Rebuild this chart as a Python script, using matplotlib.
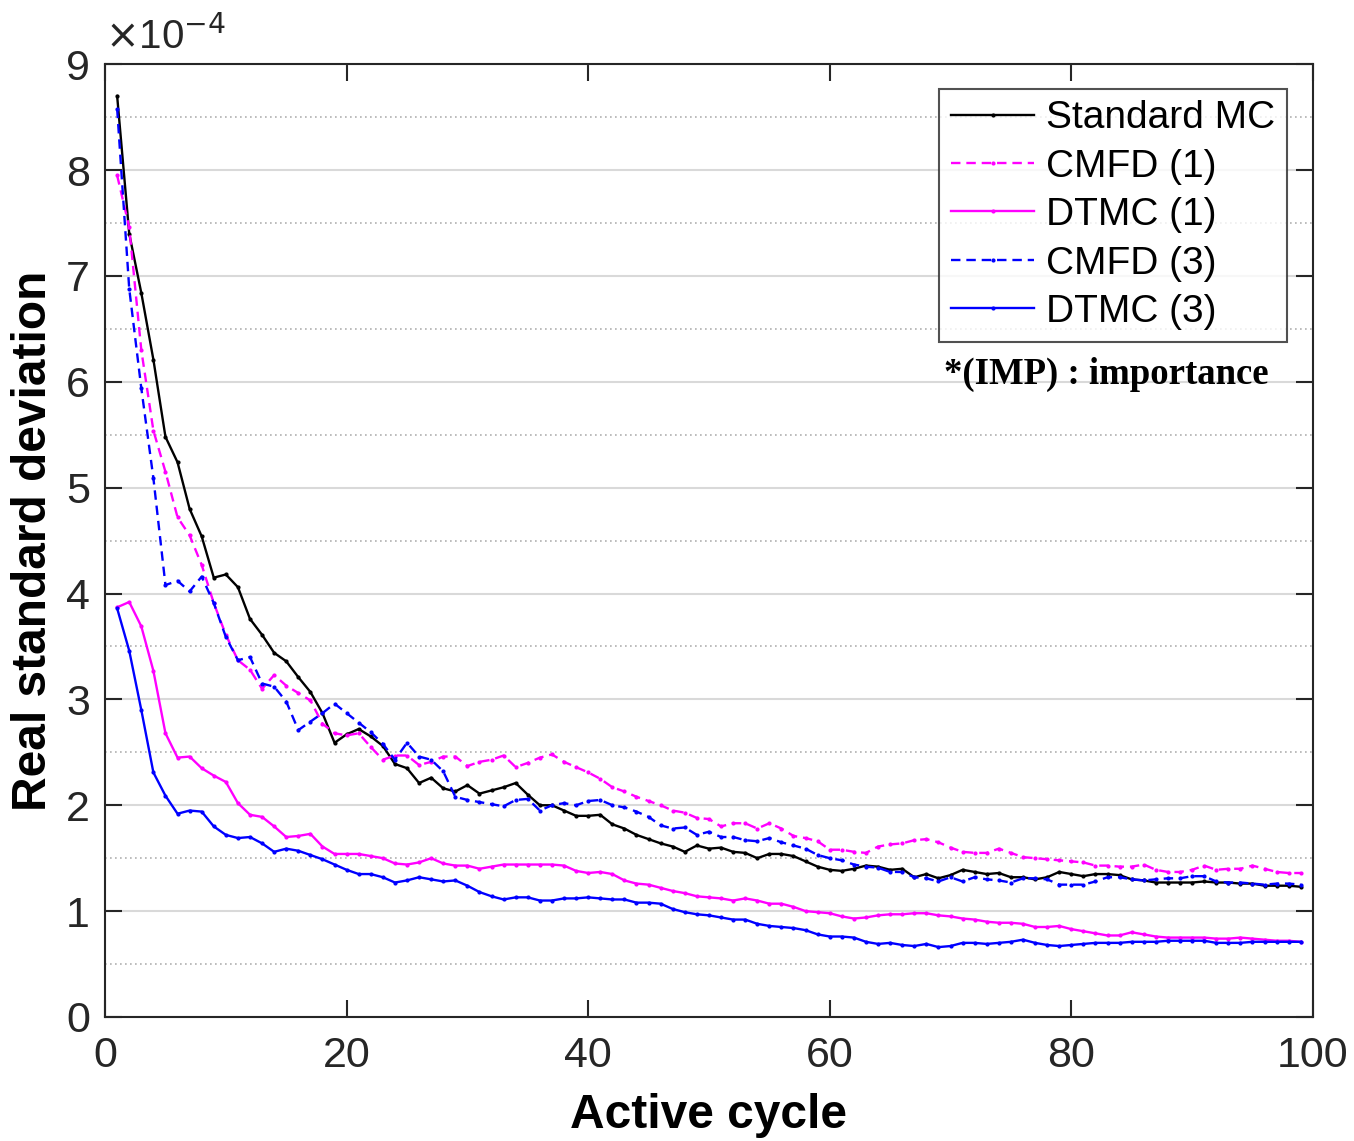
import numpy as np
import matplotlib
matplotlib.use("Agg")
import matplotlib.pyplot as plt
from matplotlib.ticker import MultipleLocator

plt.rcParams['font.family'] = ['Liberation Sans', 'DejaVu Sans']

# active cycles 1..99, values in units of 1e-4
cycles = list(range(1, 100))

standard_mc = [
    8.70, 7.40, 6.84, 6.21, 5.48, 5.24, 4.80, 4.54, 4.15, 4.18,
    4.06, 3.76, 3.61, 3.44, 3.36, 3.21, 3.07, 2.87, 2.59, 2.67,
    2.72, 2.65, 2.56, 2.39, 2.35, 2.21, 2.26, 2.16, 2.13, 2.19,
    2.11, 2.14, 2.17, 2.21, 2.10, 2.00, 2.00, 1.95, 1.90, 1.90,
    1.91, 1.82, 1.78, 1.72, 1.68, 1.64, 1.61, 1.56, 1.62, 1.59,
    1.60, 1.56, 1.55, 1.50, 1.54, 1.54, 1.52, 1.47, 1.42, 1.39,
    1.38, 1.40, 1.43, 1.42, 1.39, 1.40, 1.32, 1.35, 1.31, 1.34,
    1.39, 1.37, 1.35, 1.36, 1.32, 1.32, 1.30, 1.32, 1.37, 1.35,
    1.33, 1.35, 1.35, 1.34, 1.30, 1.29, 1.27, 1.27, 1.27, 1.27,
    1.28, 1.27, 1.27, 1.26, 1.26, 1.24, 1.24, 1.24, 1.23,
]

cmfd_1 = [
    7.95, 7.46, 6.30, 5.54, 5.15, 4.72, 4.55, 4.27, 3.91, 3.61,
    3.37, 3.28, 3.10, 3.23, 3.13, 3.06, 2.99, 2.77, 2.68, 2.66,
    2.68, 2.55, 2.43, 2.47, 2.47, 2.38, 2.41, 2.46, 2.46, 2.37,
    2.41, 2.43, 2.47, 2.36, 2.40, 2.45, 2.48, 2.41, 2.36, 2.31,
    2.25, 2.17, 2.13, 2.08, 2.04, 2.00, 1.95, 1.93, 1.88, 1.87,
    1.80, 1.83, 1.83, 1.78, 1.83, 1.78, 1.71, 1.69, 1.66, 1.58,
    1.58, 1.56, 1.55, 1.61, 1.63, 1.64, 1.67, 1.68, 1.65, 1.60,
    1.56, 1.55, 1.55, 1.59, 1.55, 1.51, 1.50, 1.49, 1.48, 1.47,
    1.46, 1.43, 1.43, 1.42, 1.42, 1.44, 1.39, 1.37, 1.37, 1.39,
    1.43, 1.39, 1.40, 1.40, 1.43, 1.40, 1.37, 1.36, 1.36,
]

dtmc_1 = [
    3.87, 3.92, 3.69, 3.27, 2.68, 2.45, 2.46, 2.35, 2.28, 2.22,
    2.02, 1.91, 1.89, 1.80, 1.70, 1.71, 1.73, 1.61, 1.54, 1.54,
    1.54, 1.52, 1.50, 1.45, 1.44, 1.46, 1.50, 1.45, 1.43, 1.43,
    1.40, 1.42, 1.44, 1.44, 1.44, 1.44, 1.44, 1.43, 1.38, 1.36,
    1.37, 1.35, 1.29, 1.26, 1.25, 1.22, 1.19, 1.17, 1.14, 1.13,
    1.12, 1.10, 1.12, 1.10, 1.07, 1.07, 1.04, 1.00, 0.99, 0.98,
    0.95, 0.93, 0.94, 0.96, 0.97, 0.97, 0.98, 0.98, 0.96, 0.95,
    0.93, 0.92, 0.90, 0.89, 0.89, 0.88, 0.85, 0.85, 0.86, 0.83,
    0.81, 0.79, 0.77, 0.77, 0.80, 0.78, 0.76, 0.75, 0.75, 0.75,
    0.75, 0.74, 0.74, 0.75, 0.74, 0.73, 0.72, 0.72, 0.71,
]

cmfd_3 = [
    8.58, 6.88, 5.94, 5.09, 4.08, 4.12, 4.02, 4.16, 3.91, 3.59,
    3.37, 3.40, 3.15, 3.12, 2.98, 2.71, 2.79, 2.87, 2.96, 2.87,
    2.78, 2.69, 2.58, 2.43, 2.59, 2.46, 2.43, 2.32, 2.08, 2.05,
    2.03, 2.01, 1.99, 2.05, 2.06, 1.95, 2.00, 2.02, 2.00, 2.04,
    2.05, 2.00, 1.98, 1.94, 1.89, 1.81, 1.78, 1.79, 1.72, 1.75,
    1.70, 1.70, 1.67, 1.66, 1.69, 1.65, 1.62, 1.59, 1.53, 1.50,
    1.48, 1.44, 1.42, 1.41, 1.37, 1.37, 1.32, 1.31, 1.28, 1.32,
    1.28, 1.32, 1.30, 1.29, 1.27, 1.31, 1.31, 1.30, 1.25, 1.25,
    1.25, 1.28, 1.32, 1.32, 1.30, 1.29, 1.30, 1.31, 1.31, 1.33,
    1.33, 1.28, 1.27, 1.27, 1.26, 1.25, 1.26, 1.26, 1.25,
]

dtmc_3 = [
    3.86, 3.46, 2.90, 2.31, 2.09, 1.92, 1.95, 1.94, 1.80, 1.72,
    1.69, 1.70, 1.64, 1.56, 1.59, 1.57, 1.53, 1.49, 1.44, 1.39,
    1.35, 1.35, 1.32, 1.27, 1.29, 1.32, 1.30, 1.28, 1.29, 1.24,
    1.18, 1.14, 1.11, 1.13, 1.13, 1.10, 1.10, 1.12, 1.12, 1.13,
    1.12, 1.11, 1.11, 1.08, 1.08, 1.07, 1.02, 0.99, 0.97, 0.96,
    0.94, 0.92, 0.92, 0.88, 0.86, 0.85, 0.84, 0.82, 0.78, 0.76,
    0.76, 0.75, 0.71, 0.69, 0.70, 0.68, 0.67, 0.69, 0.66, 0.67,
    0.70, 0.70, 0.69, 0.70, 0.71, 0.73, 0.70, 0.68, 0.67, 0.68,
    0.69, 0.70, 0.70, 0.70, 0.71, 0.71, 0.71, 0.72, 0.72, 0.72,
    0.72, 0.70, 0.70, 0.70, 0.71, 0.71, 0.71, 0.71, 0.71,
]

series = [
    ("Standard MC", standard_mc, "black", "-"),
    ("CMFD (1)", cmfd_1, "#ff00ff", "--"),
    ("DTMC (1)", dtmc_1, "#ff00ff", "-"),
    ("CMFD (3)", cmfd_3, "#0000ff", "--"),
    ("DTMC (3)", dtmc_3, "#0000ff", "-"),
]

fig = plt.figure(figsize=(13.54, 11.41), dpi=100)
ax = fig.add_axes([0.0776, 0.1087, 0.892, 0.835])

for name, vals, col, ls in series:
    line, = ax.plot(cycles, vals, color=col, linestyle=ls, lw=1.7,
                    marker='.', markersize=4, label=name)
    if ls == "--":
        line.set_dashes((4, 2.5))

ax.set_xlim(0, 100)
ax.set_ylim(0, 9)
ax.xaxis.set_major_locator(MultipleLocator(20))
ax.yaxis.set_major_locator(MultipleLocator(1))
ax.yaxis.set_minor_locator(MultipleLocator(0.5))

ax.grid(True, axis='y', which='major', color='#d9d9d9', lw=1.5)
ax.grid(True, axis='y', which='minor', color='#b0b0b0', lw=1.2, linestyle=(0, (1, 2)))
ax.set_axisbelow(True)

ax.tick_params(axis='both', which='major', direction='in', length=12, width=1.5,
               labelsize=31, top=True, right=True, colors='#262626')
ax.tick_params(axis='x', which='major', pad=14)
ax.tick_params(axis='y', which='major', pad=11)
ax.tick_params(axis='both', which='minor', length=0)
for sp in ax.spines.values():
    sp.set_color('#262626')
    sp.set_linewidth(1.5)

ax.set_xlabel("Active cycle", fontsize=34.5, fontweight='bold', labelpad=12)
ax.set_ylabel("Real standard deviation", fontsize=34.5, fontweight='bold', labelpad=7)

ax.text(0.0, 1.008, r"$\times$10$^{-4}$", transform=ax.transAxes, fontsize=29,
        color='#262626', ha='left', va='bottom')

leg = ax.legend(loc='upper right', bbox_to_anchor=(0.9785, 0.9745), fontsize=28,
                frameon=True, fancybox=False, handlelength=2.15, handletextpad=0.3,
                labelspacing=0.32, borderpad=0.3, borderaxespad=0)
leg.get_frame().set_edgecolor('#262626')
leg.get_frame().set_linewidth(1.5)

ax.text(0.695, 0.674, "*(IMP) : importance", transform=ax.transAxes,
        fontsize=26.5, fontweight='bold', family=['Liberation Serif', 'DejaVu Serif'],
        ha='left', va='center')

fig.savefig("out.png", dpi=100)
